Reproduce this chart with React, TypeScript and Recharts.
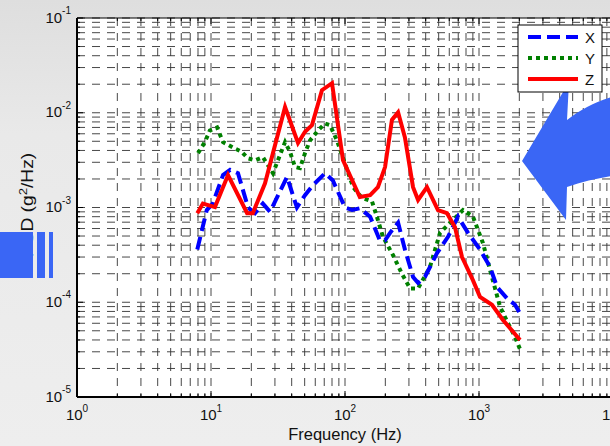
import { LineChart, Line, XAxis, YAxis, CartesianGrid, Customized } from 'recharts';

// axis decades (tick labels 10^n)
const X_DECADES = [1, 10, 100, 1000, 10000];
const Y_DECADES = [1e-5, 1e-4, 1e-3, 1e-2, 1e-1];

// series X (blue dashed)
const xFreq = [7.9, 9.3, 10.3, 12.3, 13.9, 15.9, 18.9, 21.3, 24.4, 27.6, 36.9, 43.8, 50.3, 57.7, 71, 81, 100, 113, 129, 154, 182, 199, 217, 249, 280, 322, 351, 395, 486, 587, 697, 721, 828, 1017, 1208, 1362, 1619, 1857, 2094];
const xPsd = [3.6e-4, 9.4e-4, 1.1e-3, 2.2e-3, 2.5e-3, 2.3e-3, 1.0e-3, 8.7e-4, 1.1e-3, 9e-4, 2.1e-3, 1.0e-3, 1.35e-3, 1.72e-3, 2.3e-3, 1.94e-3, 1.0e-3, 9.4e-4, 9.8e-4, 8e-4, 4.5e-4, 4.5e-4, 5.4e-4, 6.9e-4, 3.6e-4, 1.85e-4, 1.6e-4, 1.85e-4, 3.3e-4, 4.9e-4, 8e-4, 7.4e-4, 5.4e-4, 3.6e-4, 2.37e-4, 1.45e-4, 1.1e-4, 9.4e-5, 7e-5];

// series Y (green dotted)
const yFreq = [8, 9, 9.8, 11.1, 12.3, 14.6, 17, 18.9, 21.3, 24.4, 29, 31.6, 35.7, 38.9, 42.4, 46.1, 50.3, 54.8, 62.9, 71, 77.3, 87.1, 100, 115, 134, 159, 173, 192, 228, 266, 306, 351, 431, 512, 608, 760, 902, 966, 1071, 1208, 1434, 1646, 1857, 2024];
const yPsd = [3.75e-3, 4.9e-3, 6.5e-3, 7e-3, 4.9e-3, 4.3e-3, 3.85e-3, 3.3e-3, 3.15e-3, 3.4e-3, 2.3e-3, 3.15e-3, 4.9e-3, 3.85e-3, 2.67e-3, 2.6e-3, 3.75e-3, 5.1e-3, 6.5e-3, 7.7e-3, 7.4e-3, 5.1e-3, 2.9e-3, 1.64e-3, 1.26e-3, 1.16e-3, 8e-4, 4.9e-4, 3.15e-4, 2.0e-4, 1.4e-4, 1.4e-4, 2.37e-4, 5.4e-4, 6.9e-4, 9.4e-4, 8e-4, 6.2e-4, 4.2e-4, 2.2e-4, 9e-5, 6e-5, 4.3e-5, 3.2e-5];

// series Z (red solid)
const zFreq = [7.9, 8.7, 10.7, 13.4, 18.6, 20.5, 25.3, 35.7, 44.6, 50.3, 56.7, 67.3, 80, 96.6, 129, 154, 176, 199, 224, 249, 280, 322, 351, 409, 494, 577, 662, 747, 902, 1017, 1250, 1510, 2024];
const zPsd = [8.7e-4, 1.1e-3, 1.01e-3, 2.2e-3, 8.7e-4, 8.7e-4, 1.8e-3, 1.15e-2, 4.8e-3, 6.3e-3, 7.4e-3, 1.73e-2, 2.05e-2, 3.16e-3, 1.29e-3, 1.35e-3, 1.64e-3, 2.67e-3, 8.4e-3, 1.01e-2, 5.5e-3, 1.64e-3, 1.2e-3, 1.64e-3, 9.4e-4, 8.7e-4, 6.2e-4, 3.0e-4, 1.7e-4, 1.14e-4, 9.4e-5, 6.5e-5, 4.0e-5];

const seriesNames = ['X', 'Y', 'Z'];

const toRows = (f: number[], v: number[]) => f.map((x, i) => ({ f: x, v: v[i] }));
const dataX = toRows(xFreq, xPsd);
const dataY = toRows(yFreq, yPsd);
const dataZ = toRows(zFreq, zPsd);

// minor + major ticks per decade for the log grid
const logTicks = (decades: number[]) => {
  const out: number[] = [];
  decades.slice(0, -1).forEach((d) => {
    for (let m = 1; m <= 9; m++) out.push(d * m);
  });
  out.push(decades[decades.length - 1]);
  return out;
};
const xTicks = logTicks(X_DECADES);
const yTicks = logTicks(Y_DECADES);

const PLOT = { left: 77, right: 613, top: 18, bottom: 397 };
const FONT = '"Liberation Sans", Arial, Helvetica, sans-serif';

const isMajor = (v: number) => {
  const l = Math.log10(v);
  return Math.abs(l - Math.round(l)) < 1e-9;
};

const XTick = (props: any) => {
  const { x, payload } = props;
  const v = payload.value;
  const major = isMajor(v);
  const len = major ? 6 : 3;
  return (
    <g>
      <line x1={x} x2={x} y1={PLOT.bottom} y2={PLOT.bottom - len} stroke="#000" strokeWidth={1} />
      <line x1={x} x2={x} y1={PLOT.top} y2={PLOT.top + len} stroke="#000" strokeWidth={1} />
      {major && (
        <text x={x} y={420} textAnchor="middle" fontFamily={FONT} fontSize={15} fill="#111">
          10
          <tspan dy={-8} fontSize={10}>{Math.round(Math.log10(v))}</tspan>
        </text>
      )}
    </g>
  );
};

const YTick = (props: any) => {
  const { y, payload } = props;
  const v = payload.value;
  const major = isMajor(v);
  const len = major ? 6 : 3;
  return (
    <g>
      <line x1={PLOT.left} x2={PLOT.left + len} y1={y} y2={y} stroke="#000" strokeWidth={1} />
      {major && (
        <text x={71} y={y + 4.5} textAnchor="end" fontFamily={FONT} fontSize={15} fill="#111">
          10
          <tspan dy={-8.5} fontSize={10}>{Math.round(Math.log10(v))}</tspan>
        </text>
      )}
    </g>
  );
};

const lineStyles = [
  { color: '#0000ff', dash: '13 6' },
  { color: '#008000', dash: '4 4' },
  { color: '#ff0000', dash: undefined },
];

const Overlay = () => (
  <g>
    {/* axis labels */}
    <text x={345} y={440} textAnchor="middle" fontFamily={FONT} fontSize={16.5} fill="#111">
      Frequency (Hz)
    </text>
    <text
      x={0}
      y={0}
      textAnchor="middle"
      fontFamily={FONT}
      fontSize={16}
      fill="#111"
      transform="translate(33 205) rotate(-90) scale(1.2 1)"
    >
      PSD (g<tspan dy={-6} fontSize={11}>2</tspan><tspan dy={6}>/Hz)</tspan>
    </text>
    {/* blue arrow from the page behind the figure */}
    <path
      d="M522,161 L569,82 L567,120 C580,110 595,102 612,97 L612,176 C598,178 582,182 567,187 L566,220 Z"
      fill="#3a66f5"
    />
    {/* blue bars on the left (cover part of the y label, as in the source) */}
    <rect x={0} y={232} width={33} height={46} fill="#3a66f5" />
    <rect x={37} y={232} width={8} height={46} fill="#3a66f5" />
    <rect x={49} y={232} width={4} height={46} fill="#3a66f5" />
    {/* axes box */}
    <line x1={PLOT.left} x2={PLOT.right} y1={PLOT.top} y2={PLOT.top} stroke="#000" strokeWidth={1.2} />
    <line x1={PLOT.left} x2={PLOT.right} y1={PLOT.bottom} y2={PLOT.bottom} stroke="#000" strokeWidth={2} />
    <line x1={PLOT.left} x2={PLOT.left} y1={PLOT.top} y2={PLOT.bottom} stroke="#000" strokeWidth={2} />
    {/* legend */}
    <rect x={518} y={25} width={84} height={67} fill="#fff" stroke="#000" strokeWidth={1} />
    {seriesNames.map((n, i) => {
      const yy = [37, 58, 79][i];
      const s = lineStyles[i];
      return (
        <g key={n}>
          <line x1={528} x2={578} y1={yy} y2={yy} stroke={s.color} strokeWidth={4} strokeDasharray={s.dash} />
          <text x={585} y={yy + 5.5} fontFamily={FONT} fontSize={15} fill="#111">{n}</text>
        </g>
      );
    })}
  </g>
);

export default function App() {
  return (
    <div
      style={{
        position: 'fixed',
        left: 0,
        top: 0,
        width: 610,
        height: 446,
        overflow: 'hidden',
        background: 'linear-gradient(180deg, #dedede 0%, #e9e9e9 30%, #eeeeee 100%)',
      }}
    >
      <LineChart width={640} height={446} margin={{ top: 18, right: 27, left: 0, bottom: 0 }}>
        <CartesianGrid stroke="#333" strokeWidth={0.9} strokeDasharray="8 7" fill="#fff" fillOpacity={1} />
        <XAxis
          type="number"
          dataKey="f"
          scale="log"
          domain={[1, 10000]}
          ticks={xTicks}
          interval={0}
          allowDataOverflow
          height={49}
          tickSize={0}
          tickMargin={0}
          tickLine={false}
          axisLine={false}
          tick={<XTick />}
        />
        <YAxis
          type="number"
          dataKey="v"
          scale="log"
          domain={[1e-5, 1e-1]}
          ticks={yTicks}
          interval={0}
          allowDataOverflow
          width={77}
          tickSize={0}
          tickMargin={0}
          tickLine={false}
          axisLine={false}
          tick={<YTick />}
        />
        <Line data={dataY} dataKey="v" name="Y" stroke="#008000" strokeWidth={4} strokeDasharray="4 4" dot={false} isAnimationActive={false} />
        <Line data={dataX} dataKey="v" name="X" stroke="#0000ff" strokeWidth={4} strokeDasharray="13 6" dot={false} isAnimationActive={false} />
        <Line data={dataZ} dataKey="v" name="Z" stroke="#ff0000" strokeWidth={4} dot={false} isAnimationActive={false} />
        <Customized component={Overlay} />
      </LineChart>
    </div>
  );
}
